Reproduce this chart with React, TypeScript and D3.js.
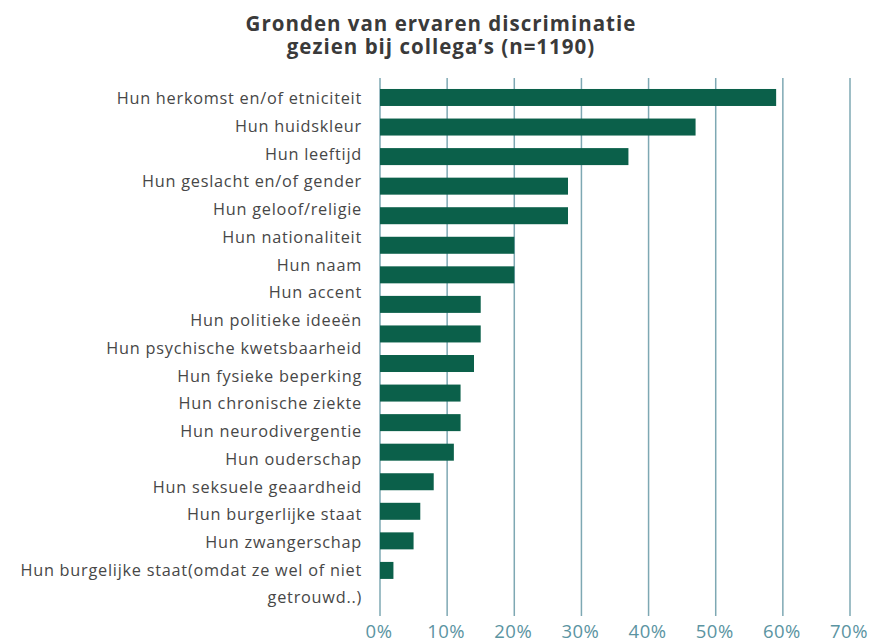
import * as d3 from 'd3';

const titleLines = ['Gronden van ervaren discriminatie', 'gezien bij collega’s (n=1190)'];

const categories = [
  'Hun herkomst en/of etniciteit',
  'Hun huidskleur',
  'Hun leeftijd',
  'Hun geslacht en/of gender',
  'Hun geloof/religie',
  'Hun nationaliteit',
  'Hun naam',
  'Hun accent',
  'Hun politieke ideeën',
  'Hun psychische kwetsbaarheid',
  'Hun fysieke beperking',
  'Hun chronische ziekte',
  'Hun neurodivergentie',
  'Hun ouderschap',
  'Hun seksuele geaardheid',
  'Hun burgerlijke staat',
  'Hun zwangerschap',
  'Hun burgelijke staat(omdat ze wel of niet|getrouwd..)',
];

// percentages as drawn, top to bottom (17 bars)
const values = [59, 47, 37, 28, 28, 20, 20, 15, 15, 14, 12, 12, 11, 8, 6, 5, 2];

const xTicks = [0, 10, 20, 30, 40, 50, 60, 70];

const W = 872;
const H = 642;
const FONT = '"Open Sans", "Noto Sans", sans-serif';

const App = () => {
  const x = d3.scaleLinear().domain([0, 70]).range([380, 850]);

  const yBar = d3
    .scaleBand<number>()
    .domain(d3.range(values.length))
    .range([82.7, 585.2])
    .paddingInner(0.425)
    .paddingOuter(0.2125);

  const yLabel = d3
    .scaleBand<string>()
    .domain(categories)
    .range([84.1, 84.1 + categories.length * 27.76]);

  const gridTop = 78;
  const gridBottom = 616;

  return (
    <svg
      width={W}
      height={H}
      style={{ position: 'absolute', left: 0, top: 0, background: '#fff' }}
      fontFamily={FONT}
    >
      {titleLines.map((t, i) => (
        <text
          key={t}
          x={441}
          y={31 + i * 23}
          textAnchor="middle"
          fontSize={20.5}
          fontWeight={700}
          letterSpacing={1}
          fill="#3a3a3a"
        >
          {t}
        </text>
      ))}

      {xTicks.map((t) => (
        <g key={t}>
          <line
            x1={x(t)}
            x2={x(t)}
            y1={gridTop}
            y2={gridBottom}
            stroke="#7ea8b3"
            strokeWidth={1.5}
          />
          <text
            x={x(t) - 1}
            y={637.5}
            textAnchor="middle"
            fontSize={18.5}
            letterSpacing={0.5}
            fill="#5b94a2"
          >
            {t}%
          </text>
        </g>
      ))}

      {values.map((v, i) => (
        <rect
          key={i}
          x={x(0)}
          y={yBar(i)}
          width={x(v) - x(0)}
          height={yBar.bandwidth()}
          fill="#0b604a"
        />
      ))}

      {categories.map((c) => {
        const lines = c.split('|');
        const cy = (yLabel(c) ?? 0) + yLabel.bandwidth() / 2;
        return (
          <text
            key={c}
            x={362}
            y={cy + 6}
            textAnchor="end"
            fontSize={16.3}
            letterSpacing={0.75}
            fill="#474747"
          >
            {lines.map((l, j) => (
              <tspan key={j} x={362} dy={j === 0 ? 0 : 27}>
                {l}
              </tspan>
            ))}
          </text>
        );
      })}
    </svg>
  );
};

export default App;
